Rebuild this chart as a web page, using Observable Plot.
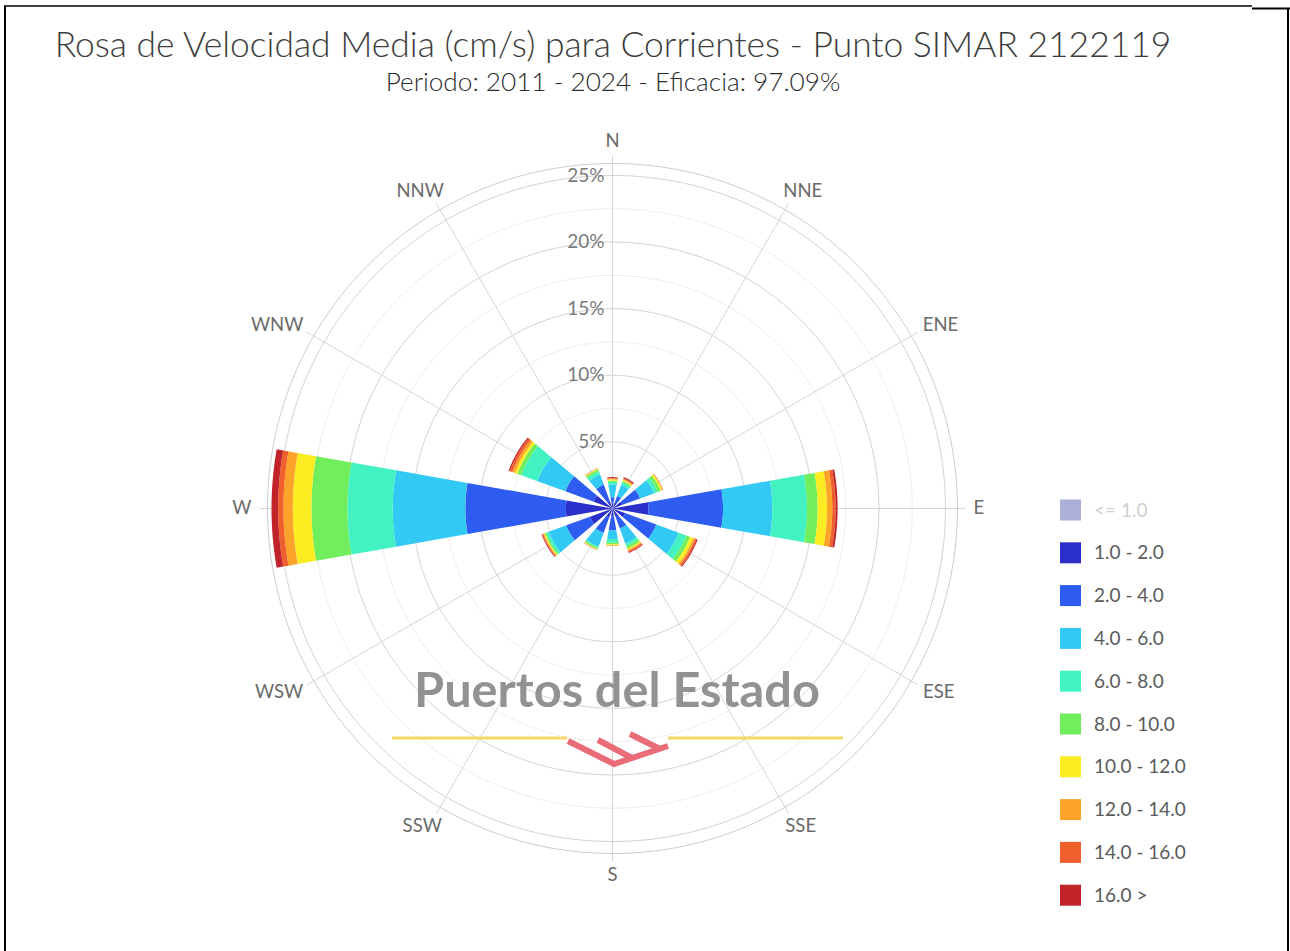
<!DOCTYPE html>
<html><head><meta charset="utf-8">
<script src="https://cdn.jsdelivr.net/npm/d3@7"></script>
<script src="https://cdn.jsdelivr.net/npm/@observablehq/plot@0.6"></script>
<style>
body{margin:0;background:#fff;}
#wrap{position:relative;width:1290px;height:951px;overflow:hidden;background:#fff;}
#chart,#deco{position:absolute;left:0;top:0;}
</style></head><body>
<div id="wrap"><div id="chart"></div><svg id="deco" width="1290" height="951"></svg></div>
<script>
// ---------- data ----------
const directions = ["N","NNE","ENE","E","ESE","SSE","S","SSW","WSW","W","WNW","NNW"];
const angles = [0,30,60,90,120,150,180,210,240,270,300,330];
const classes = ["<= 1.0","1.0 - 2.0","2.0 - 4.0","4.0 - 6.0","6.0 - 8.0","8.0 - 10.0","10.0 - 12.0","12.0 - 14.0","14.0 - 16.0","16.0 >"];
const colors  = ["#aab0d8","#2b2fc9","#2e5cf0","#33c9f5","#42f2c2","#70ee5c","#fcec22","#fca32a","#f0602c","#c0242a"];
const hiddenClasses = ["<= 1.0"];
// percentage of time per direction for each speed class (cm/s)
const v1_2   = [0.40,0.50,0.80,2.70,1.00,0.70,0.60,0.70,1.80,3.50,1.50,0.60];
const v2_4   = [0.45,0.50,1.40,5.60,2.50,0.90,1.05,1.25,1.90,7.55,2.26,1.30];
const v4_6   = [0.95,0.90,1.10,3.70,1.80,1.20,0.65,1.10,1.40,5.45,2.24,0.80];
const v6_8   = [0.20,0.20,0.30,2.60,0.60,0.20,0.25,0.10,0.20,3.40,1.30,0.25];
const v8_10  = [0.10,0.10,0.25,0.80,0.30,0.20,0.15,0.10,0.10,2.70,0.30,0.15];
const v10_12 = [0.08,0.08,0.13,0.70,0.25,0.10,0.08,0.05,0.08,1.40,0.20,0.08];
const v12_14 = [0.07,0.07,0.04,0.40,0.15,0.10,0.02,0.02,0.07,0.70,0.20,0.02];
const v14_16 = [0.05,0.07,0.02,0.25,0.12,0.10,0.01,0.01,0.07,0.40,0.20,0.01];
const v16    = [0.06,0.08,0.01,0.15,0.08,0.05,0.01,0.01,0.05,0.50,0.10,0.01];
const seriesValues = [null, v1_2, v2_4, v4_6, v6_8, v8_10, v10_12, v12_14, v14_16, v16];
const radialTicks = [5,10,15,20,25];
const minorTicks = [2.5,7.5,12.5,17.5,22.5];
const axisMax = 25.9;
const titleText = "Rosa de Velocidad Media (cm/s) para Corrientes - Punto SIMAR 2122119";
const subtitleText = "Periodo: 2011 - 2024 - Eficacia: 97.09%";
const watermarkText = "Puertos del Estado";

// ---------- layout ----------
const W = 1290, H = 951;
const cx = 612, cy = 508, Rpx = 345;
const barWidth = 20;           // degrees
const pxPerPct = Rpx / axisMax;
const lon = a => 180 - a;      // compass angle -> longitude
const lat = r => 90 - r;       // radius (%) -> latitude
const FONT = "Lato, 'Open Sans', sans-serif";
const ANG_FS = 18.5;

// stacked rows
const rows = [];
angles.forEach((a, i) => {
  let c = 0;
  for (let s = 1; s < classes.length; s++) {
    const v = seriesValues[s][i];
    rows.push({dir: directions[i], angle: a, cls: classes[s], r0: c, r1: c + v});
    c += v;
  }
});
function arcPts(a0, a1, r, n) {
  const p = [];
  for (let i = 0; i <= n; i++) { const a = a0 + (a1 - a0) * i / n; p.push([lon(a), lat(r)]); }
  return p;
}
function sectorFeature(d) {
  const a0 = d.angle - barWidth / 2, a1 = d.angle + barWidth / 2;
  const outer = arcPts(a0, a1, d.r1, 24);
  const inner = arcPts(a1, a0, Math.max(d.r0, 0.01), 24);
  const ring = [...outer, ...inner, outer[0]];
  const geometry = {type: "Polygon", coordinates: [ring]};
  if (d3.geoArea(geometry) > 2 * Math.PI) ring.reverse();
  return {type: "Feature", properties: d, geometry};
}
const sectors = rows.filter(d => d.r1 > d.r0).map(sectorFeature);
const circle = r => d3.geoCircle().center([0, 90]).radius(r).precision(0.5)();
const spoke = a => ({type: "LineString", coordinates: [[lon(a), 90], [lon(a), lat(axisMax + 0.55)]]});

// measure label widths to offset them outward like the reference
const ctx = document.createElement("canvas").getContext("2d");
ctx.font = `${ANG_FS}px Lato`;
const labelR = 360 / pxPerPct;
const angLabelMarks = directions.map((name, i) => {
  const t = angles[i] * Math.PI / 180;
  const w = ctx.measureText(name).width;
  return Plot.text([name], {
    x: () => lon(angles[i]), y: () => lat(labelR), text: d => d,
    dx: Math.sin(t) * (w / 2 + 1), dy: -Math.cos(t) * 7,
    textAnchor: "middle", lineAnchor: "middle", fontSize: ANG_FS, fill: "#6a6a6a"
  });
});

const chart = Plot.plot({
  width: W, height: H,
  marginLeft: cx - Rpx, marginTop: cy - Rpx, marginRight: W - cx - Rpx, marginBottom: H - cy - Rpx,
  projection: {type: "azimuthal-equidistant", rotate: [0, -90], domain: circle(axisMax), clip: false},
  color: {domain: classes.slice(1), range: colors.slice(1)},
  style: {fontFamily: FONT, background: "transparent", overflow: "visible"},
  marks: [
    Plot.geo(minorTicks.map(circle), {stroke: "#ededed", fill: "none", strokeWidth: 1}),
    Plot.geo(radialTicks.map(circle), {stroke: "#d2d2d2", fill: "none", strokeWidth: 1}),
    Plot.geo(angles.map(spoke), {stroke: "#d6d6d6", strokeWidth: 1}),
    Plot.geo([circle(axisMax)], {stroke: "#cccccc", fill: "none", strokeWidth: 1}),
    Plot.geo(sectors, {fill: d => d.properties.cls}),
    Plot.text(radialTicks, {x: () => lon(0), y: r => lat(r), text: r => r + "%", textAnchor: "end", lineAnchor: "middle", dx: -8, fontSize: 19, fill: "#7a7a7a"}),
    ...angLabelMarks
  ]
});
document.getElementById("chart").appendChild(chart);

// ---------- decorations (title, subtitle, watermark, legend, frame) ----------
const deco = d3.select("#deco");
function fitText(sel, target) {
  const w = sel.node().getComputedTextLength();
  const fs = parseFloat(sel.attr("font-size"));
  sel.attr("font-size", fs * target / w);
}
const tTitle = deco.append("text").attr("x", 613).attr("y", 57).attr("text-anchor", "middle")
  .attr("font-family", FONT).attr("font-weight", 300).attr("font-size", 34).attr("fill", "#3c3c3c").text(titleText);
fitText(tTitle, 1117);
const tSub = deco.append("text").attr("x", 613).attr("y", 91).attr("text-anchor", "middle")
  .attr("font-family", FONT).attr("font-weight", 300).attr("font-size", 24).attr("fill", "#2c2c2c").text(subtitleText);
fitText(tSub, 455);

// watermark
const tWm = deco.append("text").attr("x", 617).attr("y", 707).attr("text-anchor", "middle")
  .attr("font-family", FONT).attr("font-weight", "bold").attr("font-size", 36).attr("fill", "#929292")
  .text(watermarkText);
fitText(tWm, 406);
deco.append("line").attr("x1", 392).attr("x2", 567).attr("y1", 738).attr("y2", 738).attr("stroke", "#f2d868").attr("stroke-width", 3);
deco.append("line").attr("x1", 668).attr("x2", 843).attr("y1", 738).attr("y2", 738).attr("stroke", "#f2d868").attr("stroke-width", 3);
const logo = deco.append("g").attr("stroke", "#ea6c78").attr("fill", "none").attr("stroke-width", 6).attr("stroke-linejoin", "miter");
logo.append("path").attr("d", "M568,741 L614,764 L668,746");
logo.append("path").attr("d", "M598,740 L632,758");
logo.append("path").attr("d", "M630,734 L660,749");

// legend
const lg = deco.append("g");
classes.forEach((c, i) => {
  const y = 510 + i * 42.8;
  const hidden = hiddenClasses.includes(c);
  lg.append("rect").attr("x", 1060).attr("y", y - 10.5).attr("width", 21).attr("height", 21)
    .attr("fill", colors[i]);
  lg.append("text").attr("x", 1094).attr("y", y + 6.5).attr("font-family", FONT).attr("font-size", 19)
    .attr("fill", hidden ? "#cfcfcf" : "#5a5a5a").text(c);
});

// frame
deco.append("line").attr("x1", 5).attr("x2", 5).attr("y1", 6).attr("y2", H).attr("stroke", "#000").attr("stroke-width", 2);
deco.append("line").attr("x1", 4).attr("x2", 1252).attr("y1", 6).attr("y2", 6).attr("stroke", "#000").attr("stroke-width", 1.5);
deco.append("line").attr("x1", 1252).attr("x2", W).attr("y1", 8.5).attr("y2", 8.5).attr("stroke", "#000").attr("stroke-width", 2);
deco.append("line").attr("x1", 1288).attr("x2", 1288).attr("y1", 8).attr("y2", H).attr("stroke", "#000").attr("stroke-width", 2);
</script></body></html>
